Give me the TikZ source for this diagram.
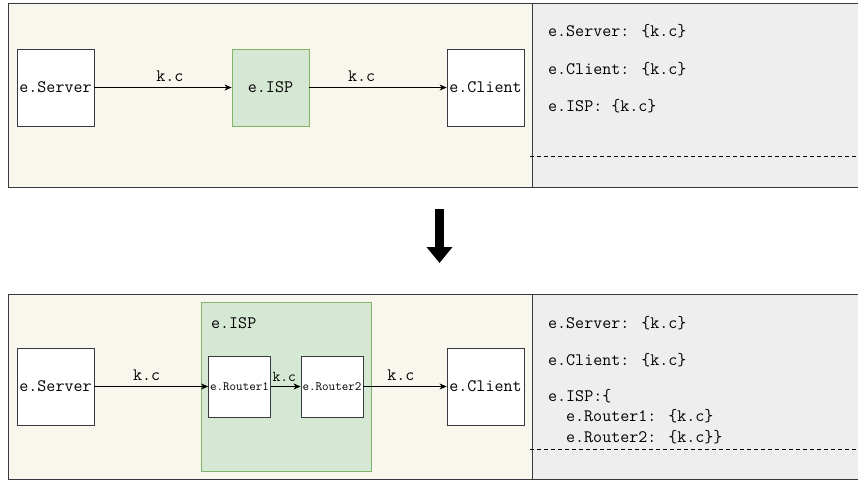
\documentclass[tikz,border=0pt]{standalone}
\usepackage{fontspec}
\usetikzlibrary{arrows.meta,positioning}
\definecolor{paneBeige}{HTML}{F9F7ED}
\definecolor{paneGrey}{HTML}{EEEEEE}
\definecolor{paneLine}{HTML}{36393D}
\definecolor{ispFill}{HTML}{D5E8D4}
\definecolor{ispLine}{HTML}{82B366}
\newcommand{\ttBig}{\fontsize{17.5}{21}\selectfont\ttfamily}
\newcommand{\ttSmall}{\fontsize{12.7}{15}\selectfont\ttfamily}

\begin{document}
\begin{tikzpicture}[x=1pt, y=-1pt,
  panel/.style={draw=paneLine, line width=0.9pt},
  entity/.style={draw=paneLine, fill=white, line width=0.8pt, minimum width=77pt,
    minimum height=77pt, inner sep=0pt, font=\ttBig},
  router/.style={entity, minimum width=62pt, minimum height=61pt, font=\ttSmall},
  isp/.style={entity, draw=ispLine, fill=ispFill},
  flow/.style={draw=black, line width=0.8pt, -{Stealth[length=7pt,width=6pt,inset=2pt]}},
  lbl/.style={above=5pt, inner sep=0pt, font=\ttBig},
  state/.style={anchor=west, inner sep=0pt, font=\ttBig},
  sep/.style={draw=black, line width=0.8pt, dash pattern=on 4pt off 3pt}]
  \useasboundingbox (0,0) rectangle (858,481);

  % before
  \path[panel, fill=paneBeige] (8,3) rectangle (532,187);
  \path[panel, fill=paneGrey] (532,3) rectangle (870,187);
  \draw[sep] (530,156) -- (858,156);

  \node[entity] (srvA) at (55.5,87.5) {e.Server};
  \node[isp] (ispA) at (270.5,87.5) {e.ISP};
  \node[entity] (cliA) at (485.5,87.5) {e.Client};
  \draw[flow] (srvA) -- node[lbl, pos=0.55] {k.c} (ispA);
  \draw[flow] (ispA) -- node[lbl, pos=0.38] {k.c} (cliA);

  \node[state] (stSrvA) at (548,31) {e.Server: \{k.c\}};
  \node[state] (stCliA) at (548,69) {e.Client: \{k.c\}};
  \node[state] (stIspA) at (548,106) {e.ISP: \{k.c\}};

  % step
  \coordinate (stepTop) at (439.5,209);
  \coordinate (stepTip) at (439.5,263);
  \draw[line width=9pt, -{Triangle[length=16pt,width=25pt]}] (stepTop) -- (stepTip);

  % after
  \path[panel, fill=paneBeige] (8,294) rectangle (532,479);
  \path[panel, fill=paneGrey] (532,294) rectangle (870,479);
  \draw[sep] (530,449) -- (858,449);

  \node[isp, minimum width=170pt, minimum height=169pt] (ispB) at (286,387) {};
  \node[state] (ispBName) at (211,323) {e.ISP};
  \node[entity] (srvB) at (55.5,386.5) {e.Server};
  \node[router] (rtOne) at (239.5,386.5) {e.Router1};
  \node[router] (rtTwo) at (332,386.5) {e.Router2};
  \node[entity] (cliB) at (485.5,386.5) {e.Client};
  \draw[flow] (srvB) -- node[lbl, pos=0.46] {k.c} (rtOne);
  \draw[flow] (rtOne) -- node[lbl, pos=0.45, font=\fontsize{15}{18}\selectfont\ttfamily] {k.c} (rtTwo);
  \draw[flow] (rtTwo) -- node[lbl, pos=0.45] {k.c} (cliB);

  \node[state] (stSrvB) at (548,323) {e.Server: \{k.c\}};
  \node[state] (stCliB) at (548,360) {e.Client: \{k.c\}};
  \node[state] (stIspB) at (548,396) {e.ISP:\{};
  \node[state] (stRtOne) at (566,416) {e.Router1: \{k.c\}};
  \node[state] (stRtTwo) at (566,437) {e.Router2: \{k.c\}\}};
\end{tikzpicture}
\end{document}
